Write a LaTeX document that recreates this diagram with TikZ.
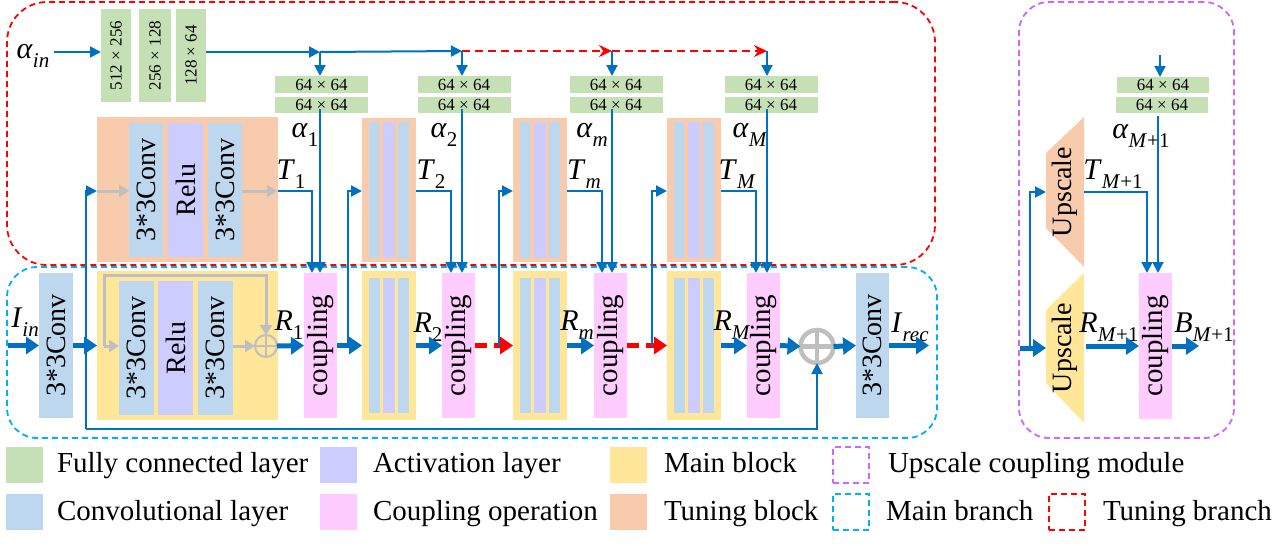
\documentclass[tikz,border=0pt]{standalone}
\usepackage{graphicx}
\usepackage{fontspec}
\setmainfont{Liberation Serif}
\usetikzlibrary{arrows.meta}
\definecolor{fcg}{HTML}{C5E0B4}
\definecolor{convb}{HTML}{BDD7EE}
\definecolor{relup}{HTML}{CCCCFF}
\definecolor{mainy}{HTML}{FFE699}
\definecolor{tuneo}{HTML}{F8CBAD}
\definecolor{cplp}{HTML}{FFCCFF}
\definecolor{arrb}{HTML}{0070C0}
\definecolor{brb}{HTML}{00B0F0}
\definecolor{modp}{HTML}{CC66FF}
\definecolor{gr}{HTML}{BFBFBF}
\definecolor{redd}{HTML}{FF0000}
\newcommand\lab[2]{#1\raisebox{-0.3em}{\fontsize{21}{21}\selectfont #2}}
\tikzset{
 fcbox/.style={fill=fcg, font=\fontsize{17}{17}\selectfont},
 convbox/.style={fill=convb, font=\fontsize{28}{28}\selectfont},
 relubox/.style={fill=relup, font=\fontsize{28}{28}\selectfont},
 mainbox/.style={fill=mainy},
 tunebox/.style={fill=tuneo},
 cplbox/.style={fill=cplp, font=\fontsize{29}{29}\selectfont},
 lbl/.style={font=\fontsize{30}{30}\selectfont},
 legtxt/.style={font=\fontsize{29}{29}\selectfont, anchor=base west},
 thinline/.style={draw=arrb, line width=2pt},
 thinarrow/.style={draw=arrb, line width=2pt, -{Triangle[length=11pt,width=11pt]}},
 thickarrow/.style={draw=arrb, line width=5pt, -{Triangle[length=13pt,width=17pt]}},
 grayarrow/.style={draw=gr, line width=3pt, -{Triangle[length=10pt,width=12pt]}},
 reddasharrow/.style={draw=redd, line width=5pt, dash pattern=on 12pt off 7pt, -{Triangle[length=13pt,width=17pt]}},
 redthinarrow/.style={draw=redd, line width=2pt, dash pattern=on 8pt off 5pt, -{Stealth[length=13pt,width=12pt]}},
 branchbox/.style={dash pattern=on 6pt off 4pt, line width=1.8pt, rounded corners=#1},
 legdash/.style={dash pattern=on 6pt off 4pt, line width=2pt, minimum width=36pt, minimum height=36pt},
 legsq/.style={minimum width=37pt, minimum height=36pt},
}
\begin{document}
\begin{tikzpicture}[x=1pt,y=-1pt, every node/.style={inner sep=0pt, outer sep=0pt}]
\useasboundingbox (0,0) rectangle (1288,546);

% ---------- branch frames ----------
\node[draw=redd, branchbox=40pt, minimum width=928pt, minimum height=263pt] (tunebr) at (471,133.5) {};
\node[draw=brb, branchbox=30pt, minimum width=930pt, minimum height=171pt] (mainbr) at (472,352.5) {};
\node[draw=modp, branchbox=30pt, minimum width=215pt, minimum height=436pt] (upmod) at (1126.5,220) {};

% ---------- fully connected ----------
\node[fcbox, minimum width=30pt, minimum height=93pt] (fc1) at (116,55.5) {\rotatebox{90}{512 × 256}};
\node[fcbox, minimum width=32pt, minimum height=93pt] (fc2) at (155,55.5) {\rotatebox{90}{256 × 128}};
\node[fcbox, minimum width=30pt, minimum height=93pt] (fc3) at (191,55.5) {\rotatebox{90}{128 × 64}};
\node[lbl] (ain) at (33,56) {\lab{\textit{α}}{\textit{in}}};
\coordinate (ainr) at (54,52);
\draw[thinarrow] (ainr) -- (ainr -| fc1.west);

\coordinate (j1) at (320,52);
\coordinate (j2) at (462,51);
\coordinate (j3) at (612,51);
\coordinate (j4) at (767,51);
\draw[thinarrow] (fc3.east |- j1) -- (j1);
\draw[thinarrow] (j1) -- (j2);
\draw[redthinarrow] (j2) -- (j3);
\draw[redthinarrow] (j3) -- (j4);

\foreach \nm/\cx in {1/321.5, 2/464, m/616, M/771}{
  \node[fcbox, minimum width=93pt, minimum height=17pt] (g\nm a) at (\cx,84.5) {64 × 64};
  \node[fcbox, minimum width=93pt, minimum height=16pt] (g\nm b) at (\cx,105) {64 × 64};
}
\draw[thinarrow] (j1) -- (j1 |- g1a.north);
\draw[thinarrow] (j2) -- (j2 |- g2a.north);
\draw[thinarrow] (j3) -- (j3 |- gma.north);
\draw[thinarrow] (j4) -- (j4 |- gMa.north);

\node[lbl] at (305,135) {\lab{\textit{α}}{1}};
\node[lbl] at (444,135) {\lab{\textit{α}}{2}};
\node[lbl] at (592,135) {\lab{\textit{α}}{\textit{m}}};
\node[lbl] at (750,135) {\lab{\textit{α}}{\textit{M}}};

% ---------- tuning block 1 ----------
\node[tunebox, minimum width=181pt, minimum height=145pt] (tb1) at (187.5,189.5) {};
\node[convbox, minimum width=34pt, minimum height=134pt] (tc1a) at (146,190) {\rotatebox{90}{3*3Conv}};
\node[relubox, minimum width=35pt, minimum height=134pt] (tr1) at (185.5,190) {\rotatebox{90}{Relu}};
\node[convbox, minimum width=34pt, minimum height=134pt] (tc1b) at (225,190) {\rotatebox{90}{3*3Conv}};

% ---------- main block 1 ----------
\node[mainbox, minimum width=181pt, minimum height=149pt] (mb1) at (187.5,345.5) {};
\node[convbox, minimum width=35pt, minimum height=134pt] (mc1a) at (136.5,348) {\rotatebox{90}{3*3Conv}};
\node[relubox, minimum width=35pt, minimum height=134pt] (mr1) at (175.5,348) {\rotatebox{90}{Relu}};
\node[convbox, minimum width=35pt, minimum height=134pt] (mc1b) at (215.5,348) {\rotatebox{90}{3*3Conv}};
\node[circle, draw=gr, line width=2pt, minimum size=22pt] (sp) at (266,346) {};
\draw[gr, line width=2pt] (sp.north) -- (sp.south) (sp.west) -- (sp.east);

% ---------- blocks 2, m, M ----------
\foreach \nm/\xl in {2/362, m/513, M/667}{
  \node[tunebox, minimum width=54pt, minimum height=144pt] (tb\nm) at (\xl+27,190) {};
  \node[fill=convb, minimum width=10pt, minimum height=136pt] at (\xl+12,190) {};
  \node[fill=relup, minimum width=12pt, minimum height=136pt] at (\xl+27,190) {};
  \node[fill=convb, minimum width=11pt, minimum height=136pt] at (\xl+41.5,190) {};
  \node[mainbox, minimum width=54pt, minimum height=149pt] (mb\nm) at (\xl+27,345.5) {};
  \node[fill=convb, minimum width=11pt, minimum height=135pt] at (\xl+12.5,345.5) {};
  \node[fill=relup, minimum width=12pt, minimum height=135pt] at (\xl+27,345.5) {};
  \node[fill=convb, minimum width=11pt, minimum height=135pt] at (\xl+41.5,345.5) {};
}

% ---------- main branch nodes ----------
\node[convbox, minimum width=34pt, minimum height=145pt] (conv1) at (56,345.5) {\rotatebox{90}{3*3Conv}};
\node[cplbox, minimum width=33pt, minimum height=145pt] (cp1) at (320.5,345.5) {\rotatebox{90}{coupling}};
\node[cplbox, minimum width=33pt, minimum height=145pt] (cp2) at (458.5,345.5) {\rotatebox{90}{coupling}};
\node[cplbox, minimum width=33pt, minimum height=145pt] (cpm) at (610.5,345.5) {\rotatebox{90}{coupling}};
\node[cplbox, minimum width=33pt, minimum height=145pt] (cpM) at (763.5,345.5) {\rotatebox{90}{coupling}};
\node[circle, draw=gr, line width=4.5pt, minimum size=33pt] (bp) at (817,346.5) {};
\draw[gr, line width=4.5pt] (bp.north) -- (bp.south) (bp.west) -- (bp.east);
\node[convbox, minimum width=33pt, minimum height=145pt] (convf) at (872.5,345.5) {\rotatebox{90}{3*3Conv}};

% labels main
\node[lbl] at (25,322) {\lab{\textit{I}}{\textit{in}}};
\node[lbl] at (289,325) {\lab{\textit{R}}{1}};
\node[lbl] at (428,327) {\lab{\textit{R}}{2}};
\node[lbl] at (577,325) {\lab{\textit{R}}{\textit{m}}};
\node[lbl] at (732,325) {\lab{\textit{R}}{\textit{M}}};
\node[lbl] at (910,327) {\lab{\textit{I}}{\textit{rec}}};
\node[lbl] at (291,174) {\lab{\textit{T}}{1}};
\node[lbl] at (431,174) {\lab{\textit{T}}{2}};
\node[lbl] at (584,174) {\lab{\textit{T}}{\textit{m}}};
\node[lbl] at (737,174) {\lab{\textit{T}}{\textit{M}}};

% main arrows
\coordinate (ins) at (8,345.5);
\draw[thickarrow] (ins) -- (conv1.west);
\draw[thickarrow] (conv1.east) -- (mb1.west);
\draw[thickarrow] (sp.east) -- (cp1.west);
\draw[thickarrow] (cp1.east) -- (mb2.west);
\draw[thickarrow] (mb2.east) -- (cp2.west);
\draw[reddasharrow] (cp2.east) -- (mbm.west);
\draw[thickarrow] (mbm.east) -- (cpm.west);
\draw[reddasharrow] (cpm.east) -- (mbM.west);
\draw[thickarrow] (mbM.east) -- (cpM.west);
\draw[thickarrow] (cpM.east) -- (bp.west);
\draw[thickarrow] (bp.east) -- (convf.west);
\coordinate (irec) at (929,345.5);
\draw[thickarrow] (convf.east) -- (irec);

% gray residual inside main block 1
\coordinate (gs) at (104,346);
\coordinate (gt) at (104,275);
\draw[grayarrow] (gs) -- (gs -| mc1a.west);
\draw[grayarrow] (gs) -- (gt) -- (gt -| sp) -- (sp.north);
\draw[grayarrow] (mc1b.east |- sp) -- (sp.west);

% global skip and tuning input 1
\coordinate (b0) at (86,429);
\coordinate (tin1) at (86,191);
\draw[thinarrow] (b0) -- (tin1) -- (tin1 -| tb1.west);
\draw[thinarrow] (b0) -- (b0 -| bp) -- (bp.south);
\draw[grayarrow] (tin1 -| tb1.west) -- (tin1 -| tc1a.west);
\draw[grayarrow] (tc1b.east |- tin1) -- ([xshift=-1pt]tin1 -| tb1.east);

% tuning inputs 2, m, M
\coordinate (jn2) at (348,345.5); \coordinate (tin2) at (348,191);
\coordinate (jn3) at (499,345.5); \coordinate (tin3) at (499,191);
\coordinate (jn4) at (652,345.5); \coordinate (tin4) at (652,191);
\draw[thinarrow] (jn2) -- (tin2) -- (tin2 -| tb2.west);
\draw[thinarrow] (jn3) -- (tin3) -- (tin3 -| tbm.west);
\draw[thinarrow] (jn4) -- (tin4) -- (tin4 -| tbM.west);

% tuning outputs T
\coordinate (T1c) at (312,191);
\coordinate (T2c) at (451,191);
\coordinate (T3c) at (602,191);
\coordinate (T4c) at (756,191);
\draw[thinarrow] (tin1 -| tb1.east) -- (T1c) -- (T1c |- cp1.north);
\draw[thinarrow] (tin2 -| tb2.east) -- (T2c) -- (T2c |- cp2.north);
\draw[thinarrow] (tin3 -| tbm.east) -- (T3c) -- (T3c |- cpm.north);
\draw[thinarrow] (tin4 -| tbM.east) -- (T4c) -- (T4c |- cpM.north);

% alpha lines
\draw[thinarrow] ([yshift=4pt]j1 |- g1b.south) -- (j1 |- cp1.north);
\draw[thinarrow] ([yshift=4pt]j2 |- g2b.south) -- (j2 |- cp2.north);
\draw[thinarrow] ([yshift=4pt]j3 |- gmb.south) -- (j3 |- cpm.north);
\draw[thinarrow] ([yshift=4pt]j4 |- gMb.south) -- (j4 |- cpM.north);

% ---------- upscale coupling module ----------
\node[fcbox, minimum width=92pt, minimum height=16pt] (uga) at (1163,85) {64 × 64};
\node[fcbox, minimum width=92pt, minimum height=16pt] (ugb) at (1162,105) {64 × 64};
\coordinate (ua) at (1160,55);
\draw[thinarrow] (ua) -- (ua |- uga.north);
\node[lbl] at (1141,136) {\lab{\textit{α}}{\textit{M}+1}};

\fill[tuneo] (1046,153) -- (1084,117) -- (1084,267) -- (1046,228) -- cycle;
\fill[mainy] (1046,310) -- (1084,273) -- (1084,423) -- (1046,383) -- cycle;
\node[font=\fontsize{28}{28}\selectfont, minimum width=38pt, minimum height=150pt] (upT) at (1065,192) {\rotatebox{90}{Upscale}};
\node[font=\fontsize{28}{28}\selectfont, minimum width=38pt, minimum height=150pt] (upR) at (1065,348) {\rotatebox{90}{Upscale}};
\node[cplbox, minimum width=33pt, minimum height=146pt] (ucp) at (1155.5,346) {\rotatebox{90}{coupling}};

\coordinate (uin) at (1020,348);
\coordinate (uj) at (1030,348);
\coordinate (ut) at (1030,192);
\draw[thickarrow] (uin) -- (upR.west);
\draw[thinarrow] (uj) -- (ut) -- (ut -| upT.west);
\coordinate (uT) at (1147,192);
\draw[thinarrow] (upT.east) -- (uT) -- (uT |- ucp.north);
\coordinate (uA) at (1158,116);
\draw[thinarrow] (uA) -- (uA |- ucp.north);
\draw[thickarrow] ([xshift=2pt]upR.east |- ucp) -- (ucp.west);
\coordinate (ub) at (1199,346);
\draw[thickarrow] (ucp.east) -- (ub);
\node[lbl] at (1113,174) {\lab{\textit{T}}{\textit{M}+1}};
\node[lbl] at (1109,327) {\lab{\textit{R}}{\textit{M}+1}};
\node[lbl] at (1204,327) {\lab{\textit{B}}{\textit{M}+1}};

% ---------- legend ----------
\node[legsq, fill=fcg] (l1) at (24.5,465) {};
\node[legtxt] at (57,472) {Fully connected layer};
\node[legsq, fill=relup] (l2) at (338.5,465) {};
\node[legtxt] at (373,472) {Activation layer};
\node[legsq, fill=mainy] (l3) at (628.5,465) {};
\node[legtxt] at (664,472) {Main block};
\node[legdash, draw=modp] (l4) at (851,465) {};
\node[legtxt] at (888,472) {Upscale coupling module};

\node[legsq, fill=convb] (l5) at (24.5,512) {};
\node[legtxt] at (57,520) {Convolutional layer};
\node[legsq, fill=cplp] (l6) at (338.5,512) {};
\node[legtxt] at (373,520) {Coupling operation};
\node[legsq, fill=tuneo] (l7) at (628.5,512) {};
\node[legtxt] at (664,520) {Tuning block};
\node[legdash, draw=brb] (l8) at (851,512) {};
\node[legtxt] at (886,520) {Main branch};
\node[legdash, draw=redd] (l9) at (1067,512) {};
\node[legtxt] at (1103,520) {Tuning branch};
\end{tikzpicture}
\end{document}
